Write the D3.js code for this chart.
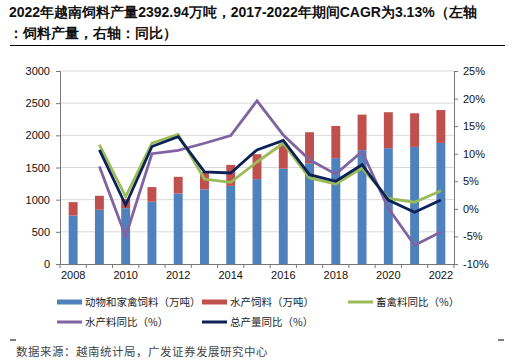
<!DOCTYPE html>
<html>
<head>
<meta charset="utf-8">
<script src="https://cdn.jsdelivr.net/npm/d3@7"></script>
<style>
  body { margin: 0; background: #fff; }
  text { font-family: "Liberation Sans", Arial, sans-serif; }
  .cn { font-family: "Noto Sans CJK SC", sans-serif; }
</style>
</head>
<body>
<div class="chart"></div>
<script>
// data
var years = ["2008","2009","2010","2011","2012","2013","2014","2015","2016","2017","2018","2019","2020","2021","2022"];
var livestockFeed = [754, 843, 868, 968, 1096, 1160, 1215, 1319, 1482, 1567, 1645, 1769, 1800, 1820, 1882];
var aquaFeed = [208, 217, 142, 227, 259, 270, 326, 388, 390, 481, 501, 553, 559, 523, 511];
var livestockYoY = [null, 11.6, 2.2, 11.9, 13.5, 5.4, 4.8, 8.5, 11.9, 5.6, 4.5, 7.4, 1.9, 1.2, 3.3];
var aquaYoY = [null, 7.7, -5.0, 10.0, 10.6, 11.9, 13.3, 19.6, 13.4, 8.9, 6.3, 10.4, 0.1, -6.6, -4.2];
var totalYoY = [null, 10.7, 0.7, 11.3, 13.1, 6.7, 6.5, 10.7, 12.4, 6.2, 5.0, 8.0, 1.6, -0.6, 1.6];
var leftTicks = [0, 500, 1000, 1500, 2000, 2500, 3000];
var rightTicks = [-10, -5, 0, 5, 10, 15, 20, 25];
var xLabels = ["2008","2010","2012","2014","2016","2018","2020","2022"];

var svgWidth = 516;
var svgHeight = 362;
var margin = { top: 71, right: 62, bottom: 98, left: 60 };
var width = svgWidth - margin.left - margin.right;
var height = svgHeight - margin.top - margin.bottom;

var svg = d3.select(".chart")
  .append("svg")
  .attr("width", svgWidth)
  .attr("height", svgHeight);

// title
var title = svg.append("g").attr("class", "cn")
  .attr("font-weight", "bold")
  .attr("font-size", 14)
  .attr("fill", "#111");
title.append("text").attr("x", 9).attr("y", 17)
  .text("2022年越南饲料产量2392.94万吨，2017-2022年期间CAGR为3.13%（左轴");
title.append("text").attr("x", 9).attr("y", 38)
  .text("：饲料产量，右轴：同比）");
svg.append("line")
  .attr("x1", 10).attr("x2", 505).attr("y1", 45.5).attr("y2", 45.5)
  .attr("stroke", "#000").attr("stroke-width", 1.2);

var chartGroup = svg.append("g")
  .attr("transform", `translate(${margin.left}, ${margin.top})`);

var xScale = d3.scaleBand().domain(years).range([0, width]);
var yLeft = d3.scaleLinear().domain([0, 3000]).range([height, 0]);
var yRight = d3.scaleLinear().domain([-10, 25]).range([height, 0]);

// gridlines
chartGroup.append("g")
  .selectAll("line")
  .data(leftTicks.slice(1))
  .enter()
  .append("line")
  .attr("x1", 0).attr("x2", width)
  .attr("y1", d => yLeft(d)).attr("y2", d => yLeft(d))
  .attr("stroke", "#d9d9d9")
  .attr("stroke-width", 1);

// stacked bars
var barW = xScale.bandwidth() * 0.34;
chartGroup.append("g")
  .selectAll("rect")
  .data(years)
  .enter()
  .append("rect")
  .attr("x", d => xScale(d) + (xScale.bandwidth() - barW) / 2)
  .attr("y", (d, i) => yLeft(livestockFeed[i]))
  .attr("width", barW)
  .attr("height", (d, i) => height - yLeft(livestockFeed[i]))
  .attr("fill", "#4f81bd");

chartGroup.append("g")
  .selectAll("rect")
  .data(years)
  .enter()
  .append("rect")
  .attr("x", d => xScale(d) + (xScale.bandwidth() - barW) / 2)
  .attr("y", (d, i) => yLeft(livestockFeed[i] + aquaFeed[i]))
  .attr("width", barW)
  .attr("height", (d, i) => yLeft(livestockFeed[i]) - yLeft(livestockFeed[i] + aquaFeed[i]))
  .attr("fill", "#c0504d");

// lines
var line = d3.line()
  .defined(d => d.v !== null)
  .x(d => xScale(d.year) + xScale.bandwidth() / 2)
  .y(d => yRight(d.v));

function addLine(values, color) {
  var pts = years.map((y, i) => ({ year: y, v: values[i] }));
  chartGroup.append("path")
    .datum(pts)
    .attr("d", line)
    .attr("fill", "none")
    .attr("stroke", color)
    .attr("stroke-width", 2.8)
    .attr("stroke-linejoin", "miter");
}
addLine(aquaYoY, "#8064a2");
addLine(livestockYoY, "#9bbb59");
addLine(totalYoY, "#0c2157");

// axes
var bottomAxis = d3.axisBottom(xScale).tickSize(0).tickFormat(d => xLabels.indexOf(d) >= 0 ? d : "");
var xAxis = chartGroup.append("g")
  .attr("transform", `translate(0, ${height})`)
  .call(bottomAxis);
xAxis.select(".domain").attr("stroke", "#777");
xAxis.selectAll("text").attr("dy", "1.05em").attr("font-size", 11).attr("fill", "#111");
// ticks between categories
xAxis.selectAll(".bound")
  .data(years.concat(["end"]))
  .enter()
  .append("line")
  .attr("x1", (d, i) => i * xScale.step())
  .attr("x2", (d, i) => i * xScale.step())
  .attr("y1", 0).attr("y2", 4)
  .attr("stroke", "#777");

var leftAxis = d3.axisLeft(yLeft).tickValues(leftTicks).tickSize(4).tickPadding(6).tickFormat(d3.format("d"));
var yAxisL = chartGroup.append("g").call(leftAxis);
yAxisL.select(".domain").attr("stroke", "#777");
yAxisL.selectAll("line").attr("stroke", "#777");
yAxisL.selectAll("text").attr("font-size", 11).attr("fill", "#111");

var rightAxis = d3.axisRight(yRight).tickValues(rightTicks).tickSize(4).tickPadding(5).tickFormat(d => d + "%");
var yAxisR = chartGroup.append("g")
  .attr("transform", `translate(${width}, 0)`)
  .call(rightAxis);
yAxisR.select(".domain").attr("stroke", "#777");
yAxisR.selectAll("line").attr("stroke", "#777");
yAxisR.selectAll("text").attr("font-size", 11).attr("fill", "#111");

// legend
var legendItems = [
  { label: "动物和家禽饲料（万吨）", color: "#4f81bd", type: "rect", x: 57, y: 302 },
  { label: "水产饲料（万吨）", color: "#c0504d", type: "rect", x: 202, y: 302 },
  { label: "畜禽料同比（%）", color: "#9bbb59", type: "line", x: 348, y: 302 },
  { label: "水产料同比（%）", color: "#8064a2", type: "line", x: 57, y: 322 },
  { label: "总产量同比（%）", color: "#0c2157", type: "line", x: 202, y: 322 }
];
var legend = svg.append("g").selectAll("g")
  .data(legendItems)
  .enter()
  .append("g")
  .attr("transform", d => `translate(${d.x}, ${d.y})`);
legend.append("rect")
  .attr("x", 0)
  .attr("y", d => d.type === "rect" ? -2.5 : -1.5)
  .attr("width", 25)
  .attr("height", d => d.type === "rect" ? 5 : 3)
  .attr("fill", d => d.color);
legend.append("text")
  .attr("class", "cn")
  .attr("x", 28)
  .attr("y", 4)
  .attr("font-size", 10.5)
  .attr("fill", "#222")
  .text(d => d.label);

// footer
svg.append("line").attr("x1", 10).attr("x2", 16).attr("y1", 340).attr("y2", 340).attr("stroke", "#000");
svg.append("line").attr("x1", 498).attr("x2", 504).attr("y1", 340).attr("y2", 340).attr("stroke", "#000");
svg.append("text")
  .attr("class", "cn")
  .attr("x", 16)
  .attr("y", 356)
  .attr("font-size", 11.5)
  .attr("letter-spacing", 0.5)
  .attr("fill", "#444")
  .text("数据来源：越南统计局，广发证券发展研究中心");
</script>
</body>
</html>
